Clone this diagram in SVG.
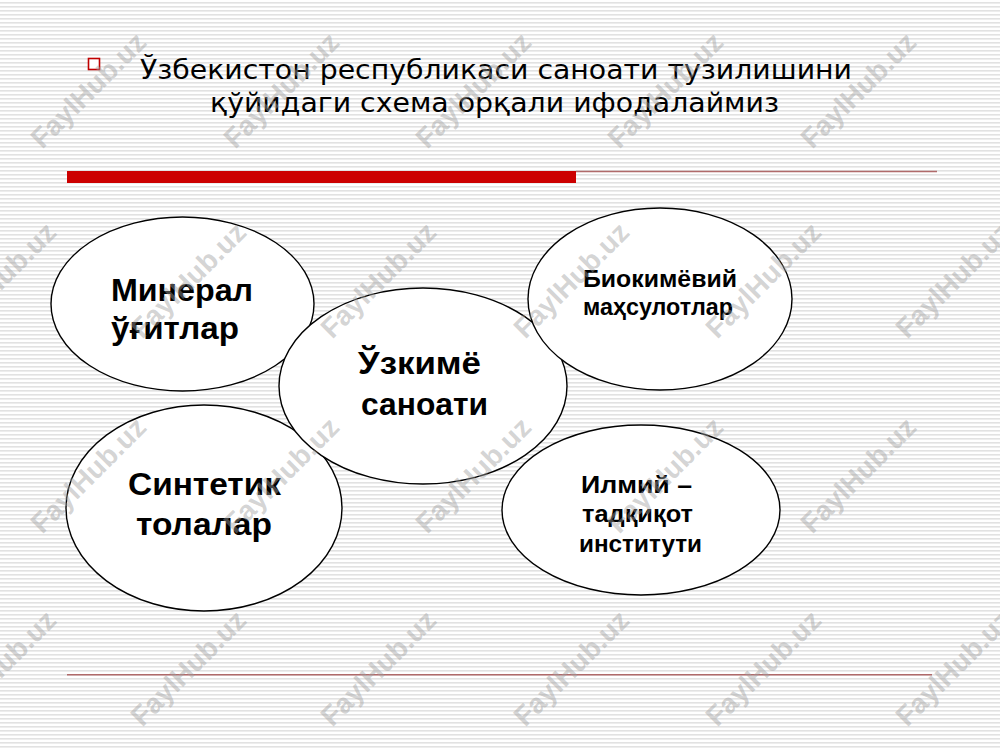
<svg xmlns="http://www.w3.org/2000/svg" xmlns:xlink="http://www.w3.org/1999/xlink" width="1000" height="750" viewBox="0 0 1000 750">
  <defs>
    <pattern id="stripes" x="0" y="0" width="8" height="4" patternUnits="userSpaceOnUse">
      <rect x="0" y="0" width="8" height="4" fill="#ffffff"/>
      <rect x="0" y="2" width="8" height="1.6" fill="#e2e2e2"/>
    </pattern>
    <text id="wm" class="wm" x="0" y="0" text-anchor="middle" transform="rotate(-45)">FaylHub.uz</text>
  </defs>
  <style>
    .wm { font-family: "Liberation Sans", Arial, sans-serif; font-weight: bold; font-size: 28px; fill: #a0a0a0; fill-opacity: 0.45; }
    .title { font-family: "DejaVu Sans", Verdana, sans-serif; font-size: 26px; fill: #000000; }
    .node ellipse { fill: #ffffff; stroke: #000000; stroke-width: 1.4; }
    .lbl { font-family: "Liberation Sans", Arial, sans-serif; font-weight: bold; fill: #000000; }
    .big { font-size: 31px; }
    .small { font-size: 23px; }
    .mid { font-size: 23px; }
  </style>

  <rect x="0" y="0" width="1000" height="750" fill="url(#stripes)"/>

  <g id="header">
    <rect x="88.5" y="58.5" width="11" height="11" fill="#ffffff" stroke="#c00000" stroke-width="1.6"/>
    <text class="title" x="140" y="79" textLength="712" lengthAdjust="spacingAndGlyphs">Ўзбекистон республикаси саноати тузилишини</text>
    <text class="title" x="210" y="112" textLength="569" lengthAdjust="spacingAndGlyphs">қўйидаги схема орқали ифодалаймиз</text>
    <rect x="67" y="171" width="509" height="12" fill="#cc0000"/>
    <line x1="576" y1="171.5" x2="937" y2="171.5" stroke="#b06a6a" stroke-width="1.5"/>
    <line x1="67" y1="674.7" x2="932" y2="674.7" stroke="#b06a6a" stroke-width="1.5"/>
  </g>

  <g id="connectors"></g>

  <g id="node-mineral" class="node">
    <ellipse cx="182.5" cy="304" rx="131.5" ry="87"/>
    <text class="lbl big" x="111" y="301" textLength="142" lengthAdjust="spacingAndGlyphs">Минерал</text>
    <text class="lbl big" x="111" y="339" textLength="128" lengthAdjust="spacingAndGlyphs">ўғитлар</text>
  </g>

  <g id="node-sintetik" class="node">
    <ellipse cx="204" cy="508" rx="138" ry="103"/>
    <text class="lbl big" x="128" y="495" textLength="153" lengthAdjust="spacingAndGlyphs">Синтетик</text>
    <text class="lbl big" x="136" y="535" textLength="136" lengthAdjust="spacingAndGlyphs">толалар</text>
  </g>

  <g id="node-center" class="node">
    <ellipse cx="423" cy="386" rx="144" ry="98"/>
    <text class="lbl big" x="358" y="374" textLength="123" lengthAdjust="spacingAndGlyphs">Ўзкимё</text>
    <text class="lbl big" x="361" y="415" textLength="127" lengthAdjust="spacingAndGlyphs">саноати</text>
  </g>

  <g id="node-bio" class="node">
    <ellipse cx="660" cy="299" rx="132" ry="91"/>
    <text class="lbl small" x="583" y="287" textLength="154" lengthAdjust="spacingAndGlyphs">Биокимёвий</text>
    <text class="lbl small" x="583" y="315" textLength="150" lengthAdjust="spacingAndGlyphs">маҳсулотлар</text>
  </g>

  <g id="node-ilmiy" class="node">
    <ellipse cx="641" cy="510" rx="139" ry="85"/>
    <text class="lbl mid" x="581" y="493" textLength="111" lengthAdjust="spacingAndGlyphs">Илмий –</text>
    <text class="lbl mid" x="582" y="522" textLength="111" lengthAdjust="spacingAndGlyphs">тадқиқот</text>
    <text class="lbl mid" x="579" y="552" textLength="123" lengthAdjust="spacingAndGlyphs">институти</text>
  </g>

  <g id="watermarks">
    <use xlink:href="#wm" transform="translate(95,97)"/>
    <use xlink:href="#wm" transform="translate(288,97)"/>
    <use xlink:href="#wm" transform="translate(480,97)"/>
    <use xlink:href="#wm" transform="translate(672,97)"/>
    <use xlink:href="#wm" transform="translate(865,97)"/>
    <use xlink:href="#wm" transform="translate(5,287)"/>
    <use xlink:href="#wm" transform="translate(195,287)"/>
    <use xlink:href="#wm" transform="translate(385,287)"/>
    <use xlink:href="#wm" transform="translate(578,287)"/>
    <use xlink:href="#wm" transform="translate(770,287)"/>
    <use xlink:href="#wm" transform="translate(960,287)"/>
    <use xlink:href="#wm" transform="translate(95,482)"/>
    <use xlink:href="#wm" transform="translate(288,482)"/>
    <use xlink:href="#wm" transform="translate(480,482)"/>
    <use xlink:href="#wm" transform="translate(672,482)"/>
    <use xlink:href="#wm" transform="translate(865,482)"/>
    <use xlink:href="#wm" transform="translate(5,675)"/>
    <use xlink:href="#wm" transform="translate(195,675)"/>
    <use xlink:href="#wm" transform="translate(385,675)"/>
    <use xlink:href="#wm" transform="translate(578,675)"/>
    <use xlink:href="#wm" transform="translate(770,675)"/>
    <use xlink:href="#wm" transform="translate(960,675)"/>
  </g>
</svg>
